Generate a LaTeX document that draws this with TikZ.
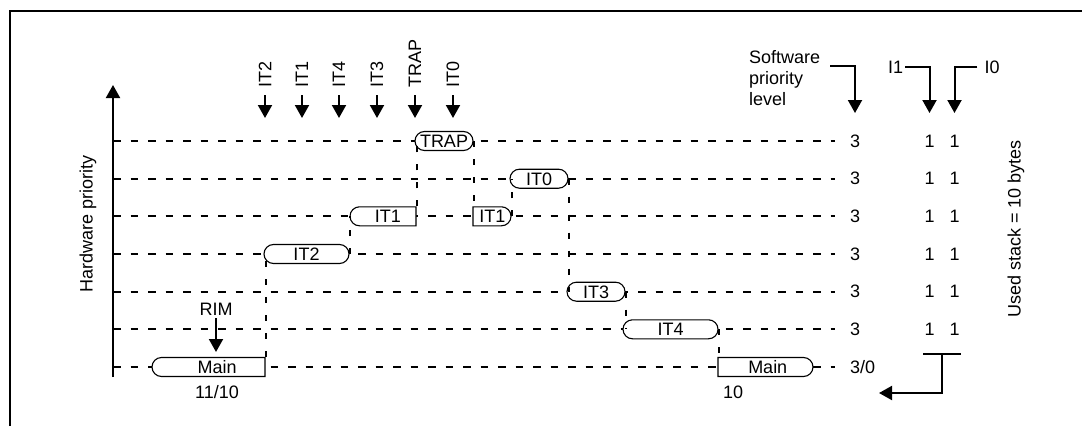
\documentclass[tikz,border=0pt]{standalone}
\usepackage{fontspec}
\setmainfont{Liberation Sans}
\usepackage{tikz}
\usetikzlibrary{positioning,arrows.meta,shapes.misc}

\newcommand{\tasklabel}[2]{\makebox[#1]{\rule[-3.05pt]{0pt}{19pt}#2}}

\tikzset{
  arr/.style={line width=2pt,-{Triangle[width=14pt,length=13pt]}},
  rowline/.style={line width=2pt,dash pattern=on 7.5pt off 10pt},
  stepline/.style={line width=2pt,dash pattern=on 6pt off 12pt},
  task/.style={draw,fill=white,line width=1.1pt,rounded rectangle,inner sep=0pt},
  flatright/.style={task,rounded rectangle east arc=none},
  flatleft/.style={task,rounded rectangle west arc=none},
  lbl/.style={inner sep=0pt},
  vlbl/.style={inner sep=0pt,rotate=90,anchor=west}
}

\begin{document}
\begin{tikzpicture}[x=1pt,y=-1pt,font=\fontsize{18}{21}\selectfont]
  \useasboundingbox (0,0) rectangle (1082,426);

  % frame
  \draw[line width=2.3pt] (10,426) -- (10,11) -- (1082,11);

  % hardware priority axis
  \coordinate (hwlow) at (113,377);
  \coordinate (hwtop) at (113,85);
  \draw[arr] (hwlow) -- (hwtop);
  \node[lbl,rotate=90] (hwlbl) at (88,223.5) {Hardware priority};

  % priority rows
  \foreach \i/\yy in {1/141,2/178.7,3/216.3,4/254,5/291.7,6/329.3} {
    \coordinate (row\i) at (113,\yy);
    \node[lbl,anchor=west] (sw\i) at (850,\yy) {3};
    \node[lbl] (ione\i) at (929.5,\yy) {1};
    \node[lbl] (izero\i) at (954.5,\yy) {1};
    \draw[rowline] (row\i) -- ([xshift=-15pt]sw\i.west);
  }
  \coordinate (row7) at (113,367);
  \node[lbl,anchor=west] (sw7) at (850,367) {3/0};
  \draw[rowline] (row7) -- ([xshift=-15pt]sw7.west);

  % tasks
  \node[task] (trap) at (444,141) {\tasklabel{39pt}{TRAP}};
  \node[task] (itzero) at (539,178.7) {\tasklabel{39pt}{IT0}};
  \node[flatright] (itonea) at (387.75,216.3) {\tasklabel{56.5pt}{IT1}};
  \node[flatleft] (itoneb) at (487.25,216.3) {\tasklabel{28.5pt}{\hspace{10pt}IT1}};
  \node[task] (ittwo) at (306.5,254) {\tasklabel{66pt}{IT2}};
  \node[task] (itthree) at (596,291.7) {\tasklabel{39pt}{IT3}};
  \node[task] (itfour) at (670.5,329.3) {\tasklabel{76pt}{IT4}};
  \node[flatright] (mainA) at (213.25,367) {\tasklabel{103.5pt}{\hspace{8pt}Main}};
  \node[flatleft] (mainB) at (760.75,367) {\tasklabel{85.5pt}{\hspace{14pt}Main}};

  \path[stepline] (mainA.east |- mainA.north) edge (mainA.east |- ittwo.west)
                  (ittwo.east) edge (ittwo.east |- itonea.west)
                  (itonea.east |- itonea.north) edge (itonea.east |- trap.west)
                  (trap.east) edge (trap.east |- itoneb.north)
                  (itoneb.east) edge (itoneb.east |- itzero.west)
                  (itzero.east) edge (itzero.east |- itthree.west)
                  (itthree.east) edge (itthree.east |- itfour.west)
                  (itfour.east) edge (itfour.east |- mainB.north);

  % interrupt requests
  \foreach \nm/\xx in {IT2/265,IT1/302,IT4/339,IT3/377,TRAP/415,IT0/453} {
    \node[vlbl] (in\nm) at (\xx,88) {\nm};
    \coordinate (hit\nm) at (\xx,118);
    \draw[arr] ([yshift=-7pt]in\nm.west) -- (hit\nm);
  }

  \node[lbl] (rim) at (216,309) {RIM};
  \coordinate (rimhit) at (216,352);
  \draw[arr] ([yshift=-3pt]rim.south) -- (rimhit);

  \node[lbl] (stackA) at (217,392.5) {11/10};
  \node[lbl,anchor=west] (stackB) at (723,392.5) {10};

  % column heads
  \node[lbl,align=left,anchor=north west] (swhead) at (749,50) {Software\\priority\\level};
  \coordinate (swfrom) at (830,66);
  \coordinate (swhit) at (855,113);
  \draw[arr] (swfrom) -| (swhit);

  \node[lbl] (ionehead) at (895.5,67) {I1};
  \node[lbl] (izerohead) at (992,67) {I0};
  \coordinate (ionehit) at (929.5,113);
  \coordinate (izerohit) at (954.5,113);
  \draw[arr] ([xshift=2pt]ionehead.east) -| (ionehit);
  \draw[arr] ([xshift=-7pt]izerohead.west) -| (izerohit);

  \node[lbl,rotate=90] (usedstack) at (1016,229) {Used stack = 10 bytes};

  % return
  \coordinate (brL) at (923,354);
  \coordinate (brR) at (961,354);
  \coordinate (brM) at (942,354);
  \coordinate (brHit) at (879,393);
  \draw[line width=2pt] (brL) -- (brR);
  \draw[arr] (brM) |- (brHit);

\end{tikzpicture}
\end{document}
